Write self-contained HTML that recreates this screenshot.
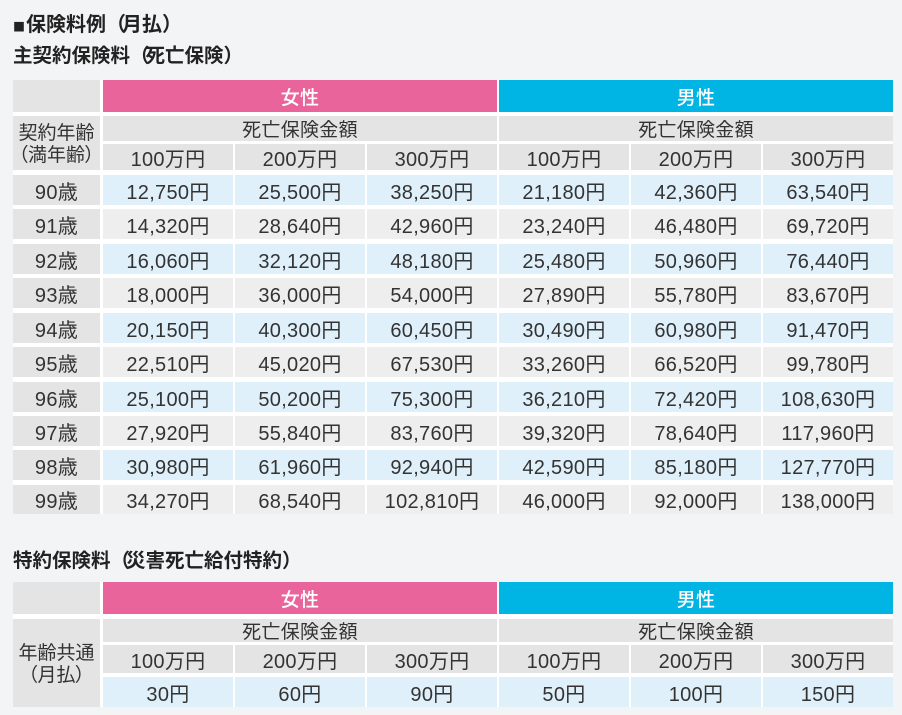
<!DOCTYPE html>
<html><head><meta charset="utf-8">
<style>
html,body{margin:0;padding:0;}
body{width:902px;height:715px;background:#f3f4f6;position:relative;overflow:hidden;
font-family:"Liberation Sans","Noto Sans CJK JP",sans-serif;color:#333;}
.t{position:absolute;left:13px;font-weight:bold;font-size:19.5px;line-height:24px;color:#222;white-space:nowrap;font-family:"Noto Sans CJK JP","Liberation Sans",sans-serif;}
.t .o{letter-spacing:-4px;}
.t .e{letter-spacing:-8px;}
.c{position:absolute;display:flex;align-items:center;justify-content:center;font-size:20px;white-space:nowrap;letter-spacing:0.3px;}
.g{background:#e4e4e4;}
.l{background:#eeeeee;}
.b{background:#dff0fa;}
.p{background:#e9649b;color:#fff;font-weight:500;font-family:"Noto Sans CJK JP",sans-serif;font-size:19px;}
.m{background:#00b4e4;color:#fff;font-weight:500;font-family:"Noto Sans CJK JP",sans-serif;font-size:19px;}
.w{position:absolute;background:#fff;}
.jp{font-family:"Noto Sans CJK JP",sans-serif;font-size:19px;}
.two{flex-direction:column;line-height:22px;font-family:"Noto Sans CJK JP",sans-serif;font-size:19px;letter-spacing:0;}
.palt{font-feature-settings:"palt";}
.sq{font-size:12px;margin-right:1px;}
</style></head><body>

<div class="t" style="top:11px;font-size:20px;"><span class="sq">■</span>保険料例<span class="o">（</span>月払<span class="e">）</span></div>
<div class="t" style="top:42px;">主契約保険料<span class="o">（</span>死亡保険<span class="e">）</span></div>

<div class="w" style="left:13px;top:80px;width:880px;height:434px;"></div>

<!-- header -->
<div class="c g" style="left:13px;top:80px;width:87px;height:32px;"></div>
<div class="c p" style="left:103px;top:80px;width:394px;height:32px;">女性</div>
<div class="c m" style="left:499px;top:80px;width:394px;height:32px;">男性</div>

<div class="c g two" style="left:13px;top:116px;width:87px;height:54px;"><span>契約年齢</span><span class="palt">（満年齢）</span></div>
<div class="c g jp" style="left:103px;top:116px;width:394px;height:25px;">死亡保険金額</div>
<div class="c g jp" style="left:499px;top:116px;width:394px;height:25px;">死亡保険金額</div>

<div class="c g" style="left:103px;top:144px;width:130px;height:26px;">100万円</div>
<div class="c g" style="left:235px;top:144px;width:130px;height:26px;">200万円</div>
<div class="c g" style="left:367px;top:144px;width:130px;height:26px;">300万円</div>
<div class="c g" style="left:499px;top:144px;width:130px;height:26px;">100万円</div>
<div class="c g" style="left:631px;top:144px;width:130px;height:26px;">200万円</div>
<div class="c g" style="left:763px;top:144px;width:130px;height:26px;">300万円</div>

<!-- rows -->
<div class="c g" style="left:13px;top:175px;width:87px;height:30px;">90歳</div>
<div class="c b" style="left:103px;top:175px;width:130px;height:30px;">12,750円</div>
<div class="c b" style="left:235px;top:175px;width:130px;height:30px;">25,500円</div>
<div class="c b" style="left:367px;top:175px;width:130px;height:30px;">38,250円</div>
<div class="c b" style="left:499px;top:175px;width:130px;height:30px;">21,180円</div>
<div class="c b" style="left:631px;top:175px;width:130px;height:30px;">42,360円</div>
<div class="c b" style="left:763px;top:175px;width:130px;height:30px;">63,540円</div>

<div class="c g" style="left:13px;top:209px;width:87px;height:30px;">91歳</div>
<div class="c l" style="left:103px;top:209px;width:130px;height:30px;">14,320円</div>
<div class="c l" style="left:235px;top:209px;width:130px;height:30px;">28,640円</div>
<div class="c l" style="left:367px;top:209px;width:130px;height:30px;">42,960円</div>
<div class="c l" style="left:499px;top:209px;width:130px;height:30px;">23,240円</div>
<div class="c l" style="left:631px;top:209px;width:130px;height:30px;">46,480円</div>
<div class="c l" style="left:763px;top:209px;width:130px;height:30px;">69,720円</div>

<div class="c g" style="left:13px;top:244px;width:87px;height:30px;">92歳</div>
<div class="c b" style="left:103px;top:244px;width:130px;height:30px;">16,060円</div>
<div class="c b" style="left:235px;top:244px;width:130px;height:30px;">32,120円</div>
<div class="c b" style="left:367px;top:244px;width:130px;height:30px;">48,180円</div>
<div class="c b" style="left:499px;top:244px;width:130px;height:30px;">25,480円</div>
<div class="c b" style="left:631px;top:244px;width:130px;height:30px;">50,960円</div>
<div class="c b" style="left:763px;top:244px;width:130px;height:30px;">76,440円</div>

<div class="c g" style="left:13px;top:278px;width:87px;height:30px;">93歳</div>
<div class="c l" style="left:103px;top:278px;width:130px;height:30px;">18,000円</div>
<div class="c l" style="left:235px;top:278px;width:130px;height:30px;">36,000円</div>
<div class="c l" style="left:367px;top:278px;width:130px;height:30px;">54,000円</div>
<div class="c l" style="left:499px;top:278px;width:130px;height:30px;">27,890円</div>
<div class="c l" style="left:631px;top:278px;width:130px;height:30px;">55,780円</div>
<div class="c l" style="left:763px;top:278px;width:130px;height:30px;">83,670円</div>

<div class="c g" style="left:13px;top:313px;width:87px;height:30px;">94歳</div>
<div class="c b" style="left:103px;top:313px;width:130px;height:30px;">20,150円</div>
<div class="c b" style="left:235px;top:313px;width:130px;height:30px;">40,300円</div>
<div class="c b" style="left:367px;top:313px;width:130px;height:30px;">60,450円</div>
<div class="c b" style="left:499px;top:313px;width:130px;height:30px;">30,490円</div>
<div class="c b" style="left:631px;top:313px;width:130px;height:30px;">60,980円</div>
<div class="c b" style="left:763px;top:313px;width:130px;height:30px;">91,470円</div>

<div class="c g" style="left:13px;top:347px;width:87px;height:30px;">95歳</div>
<div class="c l" style="left:103px;top:347px;width:130px;height:30px;">22,510円</div>
<div class="c l" style="left:235px;top:347px;width:130px;height:30px;">45,020円</div>
<div class="c l" style="left:367px;top:347px;width:130px;height:30px;">67,530円</div>
<div class="c l" style="left:499px;top:347px;width:130px;height:30px;">33,260円</div>
<div class="c l" style="left:631px;top:347px;width:130px;height:30px;">66,520円</div>
<div class="c l" style="left:763px;top:347px;width:130px;height:30px;">99,780円</div>

<div class="c g" style="left:13px;top:382px;width:87px;height:30px;">96歳</div>
<div class="c b" style="left:103px;top:382px;width:130px;height:30px;">25,100円</div>
<div class="c b" style="left:235px;top:382px;width:130px;height:30px;">50,200円</div>
<div class="c b" style="left:367px;top:382px;width:130px;height:30px;">75,300円</div>
<div class="c b" style="left:499px;top:382px;width:130px;height:30px;">36,210円</div>
<div class="c b" style="left:631px;top:382px;width:130px;height:30px;">72,420円</div>
<div class="c b" style="left:763px;top:382px;width:130px;height:30px;">108,630円</div>

<div class="c g" style="left:13px;top:416px;width:87px;height:30px;">97歳</div>
<div class="c l" style="left:103px;top:416px;width:130px;height:30px;">27,920円</div>
<div class="c l" style="left:235px;top:416px;width:130px;height:30px;">55,840円</div>
<div class="c l" style="left:367px;top:416px;width:130px;height:30px;">83,760円</div>
<div class="c l" style="left:499px;top:416px;width:130px;height:30px;">39,320円</div>
<div class="c l" style="left:631px;top:416px;width:130px;height:30px;">78,640円</div>
<div class="c l" style="left:763px;top:416px;width:130px;height:30px;">117,960円</div>

<div class="c g" style="left:13px;top:450px;width:87px;height:30px;">98歳</div>
<div class="c b" style="left:103px;top:450px;width:130px;height:30px;">30,980円</div>
<div class="c b" style="left:235px;top:450px;width:130px;height:30px;">61,960円</div>
<div class="c b" style="left:367px;top:450px;width:130px;height:30px;">92,940円</div>
<div class="c b" style="left:499px;top:450px;width:130px;height:30px;">42,590円</div>
<div class="c b" style="left:631px;top:450px;width:130px;height:30px;">85,180円</div>
<div class="c b" style="left:763px;top:450px;width:130px;height:30px;">127,770円</div>

<div class="c g" style="left:13px;top:485px;width:87px;height:29px;">99歳</div>
<div class="c l" style="left:103px;top:485px;width:130px;height:29px;">34,270円</div>
<div class="c l" style="left:235px;top:485px;width:130px;height:29px;">68,540円</div>
<div class="c l" style="left:367px;top:485px;width:130px;height:29px;">102,810円</div>
<div class="c l" style="left:499px;top:485px;width:130px;height:29px;">46,000円</div>
<div class="c l" style="left:631px;top:485px;width:130px;height:29px;">92,000円</div>
<div class="c l" style="left:763px;top:485px;width:130px;height:29px;">138,000円</div>

<!-- table 2 -->
<div class="t" style="top:547px;">特約保険料<span class="o">（</span>災害死亡給付特約<span class="e">）</span></div>

<div class="w" style="left:13px;top:582px;width:880px;height:125px;"></div>

<div class="c g" style="left:13px;top:582px;width:87px;height:32px;"></div>
<div class="c p" style="left:103px;top:582px;width:394px;height:32px;">女性</div>
<div class="c m" style="left:499px;top:582px;width:394px;height:32px;">男性</div>

<div class="c g two" style="left:13px;top:619px;width:87px;height:88px;"><span>年齢共通</span><span class="palt">（月払）</span></div>
<div class="c g jp" style="left:103px;top:619px;width:394px;height:23px;">死亡保険金額</div>
<div class="c g jp" style="left:499px;top:619px;width:394px;height:23px;">死亡保険金額</div>

<div class="c g" style="left:103px;top:645px;width:130px;height:28px;">100万円</div>
<div class="c g" style="left:235px;top:645px;width:130px;height:28px;">200万円</div>
<div class="c g" style="left:367px;top:645px;width:130px;height:28px;">300万円</div>
<div class="c g" style="left:499px;top:645px;width:130px;height:28px;">100万円</div>
<div class="c g" style="left:631px;top:645px;width:130px;height:28px;">200万円</div>
<div class="c g" style="left:763px;top:645px;width:130px;height:28px;">300万円</div>

<div class="c b" style="left:103px;top:677px;width:130px;height:30px;">30円</div>
<div class="c b" style="left:235px;top:677px;width:130px;height:30px;">60円</div>
<div class="c b" style="left:367px;top:677px;width:130px;height:30px;">90円</div>
<div class="c b" style="left:499px;top:677px;width:130px;height:30px;">50円</div>
<div class="c b" style="left:631px;top:677px;width:130px;height:30px;">100円</div>
<div class="c b" style="left:763px;top:677px;width:130px;height:30px;">150円</div>

</body></html>
